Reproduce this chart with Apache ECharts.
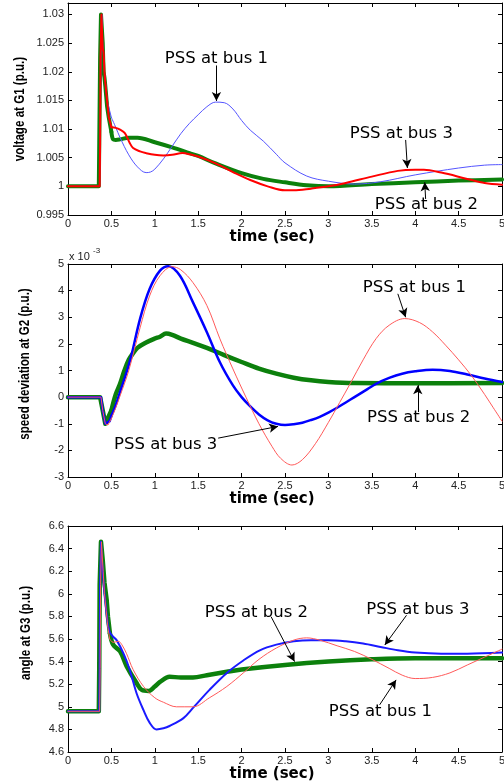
<!DOCTYPE html>
<html>
<head>
<meta charset="utf-8">
<script src="https://cdn.jsdelivr.net/npm/echarts@6/dist/echarts.min.js"></script>
<style>
  html, body { margin: 0; padding: 0; background: #fff; }
  #chart { width: 504px; height: 782px; }
</style>
</head>
<body>
<div id="chart"></div>
<script>
// time (sec) vs response, one [t, value] list per PSS location

// voltage at G1 (p.u.)
const voltageBus1 = [[0,1],[0.365,1],[0.37,1.0075],[0.38,1.0225],[0.39,1.03],[0.40,1.025],[0.42,1.02],[0.45,1.015],[0.5,1.012],[0.55,1.0103],[0.6,1.0085],[0.7,1.0055],[0.8,1.0034],[0.9,1.0024],[0.95,1.0025],[1.0,1.003],[1.1,1.0048],[1.2,1.007],[1.3,1.0092],[1.4,1.011],[1.5,1.0125],[1.6,1.0139],[1.7,1.0147],[1.8,1.0146],[1.9,1.0135],[2.0,1.0115],[2.1,1.0098],[2.25,1.0079],[2.4,1.0056],[2.5,1.0041],[2.75,1.0018],[3.0,1.0009],[3.3,1.0004],[3.6,1.0008],[4.0,1.002],[4.5,1.0032],[4.8,1.0037],[5,1.0038]];
const voltageBus2 = [[0,1],[0.355,1],[0.36,1.0075],[0.37,1.0225],[0.38,1.03],[0.395,1.03],[0.40,1.025],[0.41,1.02],[0.42,1.019],[0.43,1.0175],[0.45,1.014],[0.47,1.012],[0.5,1.0095],[0.52,1.0082],[0.55,1.0081],[0.6,1.0082],[0.7,1.0085],[0.8,1.0085],[1.0,1.0077],[1.2,1.0068],[1.4,1.0058],[1.5,1.0053],[1.7,1.004],[2.0,1.0023],[2.25,1.0013],[2.5,1.0007],[2.75,1.0002],[3.0,1.0],[3.5,1.0004],[4.0,1.0007],[4.5,1.001],[5,1.0012]];
const voltageBus3 = [[0,1],[0.365,1],[0.37,1.0075],[0.375,1.0225],[0.385,1.03],[0.395,1.03],[0.40,1.024],[0.41,1.0235],[0.42,1.02],[0.43,1.018],[0.45,1.015],[0.47,1.012],[0.5,1.0103],[0.55,1.0102],[0.6,1.0099],[0.655,1.0093],[0.71,1.0076],[0.75,1.0067],[0.83,1.0061],[0.9,1.0058],[1.0,1.0055],[1.1,1.0054],[1.2,1.0055],[1.32,1.0058],[1.4,1.0056],[1.5,1.0052],[1.7,1.004],[1.9,1.0025],[2.1,1.0011],[2.3,1.0],[2.5,0.9993],[2.6,0.9993],[2.8,0.9996],[3.0,1.0],[3.2,1.0006],[3.5,1.0017],[3.8,1.0027],[4.0,1.0029],[4.1,1.0029],[4.3,1.0024],[4.6,1.0013],[4.8,1.0006],[5,1.0003]];

// speed deviation at G2 (x 1e-3 p.u.)
const speedBus1 = [[0,0],[0.38,0],[0.40,-0.5],[0.43,-1.0],[0.46,-1.05],[0.5,-0.8],[0.55,-0.4],[0.6,0.05],[0.7,1.0],[0.83,2.6],[0.94,3.8],[1.06,4.56],[1.2,4.9],[1.3,4.78],[1.44,4.3],[1.6,3.44],[1.75,2.19],[1.9,1.06],[2.05,0.0],[2.2,-1.0],[2.35,-1.85],[2.45,-2.3],[2.58,-2.55],[2.7,-2.35],[2.85,-1.75],[3.0,-0.95],[3.13,-0.2],[3.25,0.5],[3.4,1.4],[3.55,2.2],[3.7,2.7],[3.88,2.95],[4.05,2.8],[4.2,2.45],[4.35,1.95],[4.5,1.4],[4.65,0.8],[4.8,0.1],[4.9,-0.4],[5.0,-0.9]];
const speedBus2 = [[0,0],[0.37,0],[0.40,-0.5],[0.43,-1.0],[0.45,-1.05],[0.5,-0.5],[0.55,0.1],[0.6,0.5],[0.65,1.0],[0.7,1.4],[0.75,1.65],[0.8,1.85],[0.9,2.05],[1.0,2.2],[1.06,2.27],[1.13,2.39],[1.2,2.34],[1.3,2.2],[1.44,2.04],[1.6,1.85],[1.8,1.58],[2.0,1.32],[2.2,1.07],[2.4,0.88],[2.6,0.73],[2.8,0.63],[3.0,0.57],[3.3,0.53],[4,0.52],[5,0.53]];
const speedBus3 = [[0,0],[0.38,0],[0.40,-0.5],[0.43,-1.0],[0.45,-1.05],[0.48,-0.9],[0.5,-0.7],[0.55,-0.3],[0.6,0.2],[0.675,0.94],[0.73,1.56],[0.83,2.94],[0.94,4.06],[1.06,4.75],[1.155,4.92],[1.29,4.56],[1.44,3.56],[1.6,2.44],[1.75,1.31],[1.9,0.44],[2.0,0.0],[2.1,-0.35],[2.2,-0.65],[2.3,-0.87],[2.4,-1.0],[2.5,-1.05],[2.6,-1.02],[2.7,-0.96],[2.8,-0.86],[2.9,-0.74],[3.0,-0.58],[3.1,-0.4],[3.2,-0.2],[3.3,0.0],[3.45,0.3],[3.55,0.5],[3.7,0.72],[3.85,0.88],[4.0,0.97],[4.2,1.03],[4.4,0.98],[4.6,0.85],[4.8,0.7],[5.0,0.57]];

// angle at G3 (p.u.)
const angleBus1 = [[0,4.96],[0.365,4.96],[0.37,5.34],[0.375,6.08],[0.385,6.46],[0.4,6.46],[0.405,6.2],[0.42,6.0],[0.44,5.85],[0.46,5.7],[0.48,5.6],[0.52,5.57],[0.58,5.58],[0.62,5.55],[0.675,5.47],[0.75,5.33],[0.87,5.18],[1.0,5.08],[1.1,5.04],[1.25,5.0],[1.44,5.0],[1.63,5.08],[1.83,5.18],[2.02,5.3],[2.2,5.42],[2.4,5.52],[2.6,5.59],[2.75,5.61],[2.9,5.59],[3.1,5.54],[3.3,5.49],[3.5,5.42],[3.7,5.34],[3.85,5.28],[4.0,5.25],[4.2,5.26],[4.4,5.3],[4.6,5.37],[4.8,5.44],[5.0,5.51]];
const angleBus2 = [[0,4.96],[0.355,4.96],[0.36,5.34],[0.365,6.08],[0.38,6.46],[0.395,6.46],[0.4,6.3],[0.42,6.1],[0.445,5.95],[0.46,5.8],[0.483,5.65],[0.52,5.55],[0.6,5.49],[0.675,5.36],[0.79,5.21],[0.85,5.15],[0.93,5.14],[1.0,5.18],[1.06,5.22],[1.17,5.265],[1.3,5.26],[1.44,5.26],[1.6,5.28],[1.83,5.31],[2.0,5.33],[2.5,5.37],[3.0,5.4],[3.5,5.42],[4.0,5.43],[5.0,5.43]];
const angleBus3 = [[0,4.96],[0.36,4.96],[0.365,5.34],[0.37,6.08],[0.38,6.46],[0.395,6.46],[0.4,6.2],[0.42,6.0],[0.44,5.85],[0.46,5.72],[0.48,5.66],[0.52,5.62],[0.56,5.59],[0.64,5.47],[0.71,5.33],[0.79,5.12],[0.87,4.97],[0.94,4.86],[1.02,4.8],[1.1,4.81],[1.17,4.83],[1.33,4.9],[1.44,4.99],[1.63,5.15],[1.83,5.3],[2.02,5.41],[2.21,5.5],[2.4,5.55],[2.6,5.58],[2.8,5.59],[3.0,5.59],[3.2,5.58],[3.4,5.56],[3.6,5.53],[3.8,5.5],[4.0,5.48],[4.3,5.47],[4.6,5.47],[5.0,5.48]];

// annotation text and arrows, in data units
const voltageNotes = [
  { text: 'PSS at bus 1', at: [1.71, 1.0222], from: [1.71, 1.0211], to: [1.71, 1.0149] },
  { text: 'PSS at bus 3', at: [3.84, 1.0092], from: [3.89, 1.0081], to: [3.91, 1.0032] },
  { text: 'PSS at bus 2', at: [4.13, 0.9968], from: [4.12, 0.9978], to: [4.11, 1.0007] }
];
const speedNotes = [
  { text: 'PSS at bus 1', at: [3.99, 4.1], from: [3.8, 3.88], to: [3.89, 3.0] },
  { text: 'PSS at bus 2', at: [4.04, -0.79], from: [4.03, -0.56], to: [4.03, 0.45] },
  { text: 'PSS at bus 3', at: [1.125, -1.77], from: [1.73, -1.54], to: [2.42, -1.1] }
];
const angleNotes = [
  { text: 'PSS at bus 2', at: [2.17, 5.836], from: [2.34, 5.797], to: [2.61, 5.40] },
  { text: 'PSS at bus 3', at: [4.03, 5.862], from: [3.9, 5.81], to: [3.65, 5.547] },
  { text: 'PSS at bus 1', at: [3.6, 4.958], from: [3.59, 5.017], to: [3.78, 5.238] }
];

// y axis titles
const yTitles = ['voltage at G1 (p.u.)', 'speed deviation at G2 (p.u.)', 'angle at G3 (p.u.)'];

const GREEN = '#0c800c';
const TICK_FONT = "'Liberation Sans', Arial, sans-serif";
const SPLIT_T = 0.5; // fault transient drawn as polyline, the swing after it smoothed

const chart = echarts.init(document.getElementById('chart'));

function xAxes(i, nameGap) {
  const base = {
    type: 'value', gridIndex: i, min: 0, max: 5, interval: 0.5,
    axisLine: { show: true, onZero: false, lineStyle: { color: '#000', width: 1 } },
    axisTick: { show: true, inside: true, length: 4, lineStyle: { color: '#000' } },
    splitLine: { show: false }
  };
  return [
    Object.assign({}, base, {
      position: 'bottom',
      axisLabel: { margin: 3, fontSize: 11, color: '#222', fontFamily: TICK_FONT,
        formatter: v => String(+v.toFixed(1)) },
      name: 'time (sec)', nameLocation: 'middle', nameGap: nameGap,
      nameTextStyle: { fontFamily: "'DejaVu Sans', sans-serif", fontWeight: 'bold', fontSize: 15,
        color: '#000', padding: [0, 26, 0, 0] }
    }),
    Object.assign({}, base, { position: 'top', axisLabel: { show: false } })
  ];
}

function yAxes(i, min, max, interval, digits, hideMax) {
  const base = {
    type: 'value', gridIndex: i, min: min, max: max, interval: interval,
    axisLine: { show: true, onZero: false, lineStyle: { color: '#000', width: 1 } },
    axisTick: { show: true, inside: true, length: 4, lineStyle: { color: '#000' } },
    splitLine: { show: false }
  };
  return [
    Object.assign({}, base, {
      position: 'left',
      axisLabel: { margin: 4, fontSize: 11, color: '#222', fontFamily: TICK_FONT,
        showMaxLabel: !hideMax, showMinLabel: true,
        formatter: v => String(+v.toFixed(digits)) }
    }),
    Object.assign({}, base, { position: 'right', axisLabel: { show: false } })
  ];
}

// one curve = sharp transient part + smoothed remainder, sharing one point
function line(name, data, color, width, i, extra) {
  let k = 0;
  data.forEach((p, j) => { if (p[0] <= SPLIT_T) k = j; });
  const common = {
    name: name, type: 'line', xAxisIndex: 2 * i, yAxisIndex: 2 * i,
    showSymbol: false, symbol: 'none',
    lineStyle: { color: color, width: width, join: 'round', cap: 'round' }
  };
  return [
    Object.assign({}, common, { data: data.slice(0, k + 1), smooth: false }),
    Object.assign({}, common, { data: data.slice(k), smooth: 0.35 }, extra || {})
  ];
}

function notes(list) {
  return {
    markLine: {
      silent: true, animation: false, symbol: ['none', 'arrow'], symbolSize: [7, 9],
      label: { show: false },
      lineStyle: { color: '#000', width: 1, type: 'solid' },
      emphasis: { disabled: true },
      data: list.map(n => [{ coord: n.from }, { coord: n.to }])
    },
    markPoint: {
      silent: true, animation: false, symbol: 'circle', symbolSize: 0,
      itemStyle: { color: 'rgba(0,0,0,0)' },
      label: { show: true, position: 'inside', formatter: '{b}', color: '#000',
        fontFamily: "'DejaVu Sans', sans-serif", fontSize: 16.5 },
      data: list.map(n => ({ name: n.text, coord: n.at }))
    }
  };
}

const grids = [
  { left: 68, top: 3, width: 434, height: 212 },
  { left: 68, top: 264, width: 434, height: 213 },
  { left: 68, top: 526, width: 434, height: 226 }
].map(g => Object.assign({ outerBoundsMode: 'none', containLabel: false }, g));

const series = [].concat(
  line('PSS at bus 2', voltageBus2, GREEN, 4, 0),
  line('PSS at bus 1', voltageBus1, '#5555ff', 1, 0),
  line('PSS at bus 3', voltageBus3, '#ff0000', 2, 0, notes(voltageNotes)),

  line('PSS at bus 2', speedBus2, GREEN, 4.5, 1),
  line('PSS at bus 3', speedBus3, '#0000ff', 2.5, 1),
  line('PSS at bus 1', speedBus1, '#ff5a5a', 1, 1, notes(speedNotes)),

  line('PSS at bus 2', angleBus2, GREEN, 4.5, 2),
  line('PSS at bus 3', angleBus3, '#1a1aff', 2, 2),
  line('PSS at bus 1', angleBus1, '#ff5a5a', 1, 2, notes(angleNotes))
);

// rotated, narrowed y titles (Arial Narrow look)
const titleSpots = [[19.5, 109], [25, 364], [25.5, 633]];
const titleGraphics = yTitles.map((t, i) => ({
  type: 'text', x: titleSpots[i][0], y: titleSpots[i][1], rotation: Math.PI / 2, scaleX: 0.8,
  style: { text: t, fontFamily: TICK_FONT, fontWeight: 'bold', fontSize: 14.5, fill: '#000',
    textAlign: 'center', textVerticalAlign: 'middle' }
}));

chart.setOption({
  animation: false,
  backgroundColor: '#fff',
  grid: grids,
  xAxis: [].concat(xAxes(0, 12), xAxes(1, 12), xAxes(2, 14)),
  yAxis: [].concat(
    yAxes(0, 0.995, 1.032, 0.005, 3, true),
    yAxes(1, -3, 5, 1, 0, false),
    yAxes(2, 4.6, 6.6, 0.2, 1, false)
  ),
  series: series,
  graphic: titleGraphics.concat([
    { type: 'text', left: 69, top: 251, style: { text: 'x 10', fontSize: 11, fontFamily: TICK_FONT, fill: '#222' } },
    { type: 'text', left: 93, top: 247, style: { text: '-3', fontSize: 8, fontFamily: TICK_FONT, fill: '#222' } }
  ])
});
</script>
</body>
</html>
